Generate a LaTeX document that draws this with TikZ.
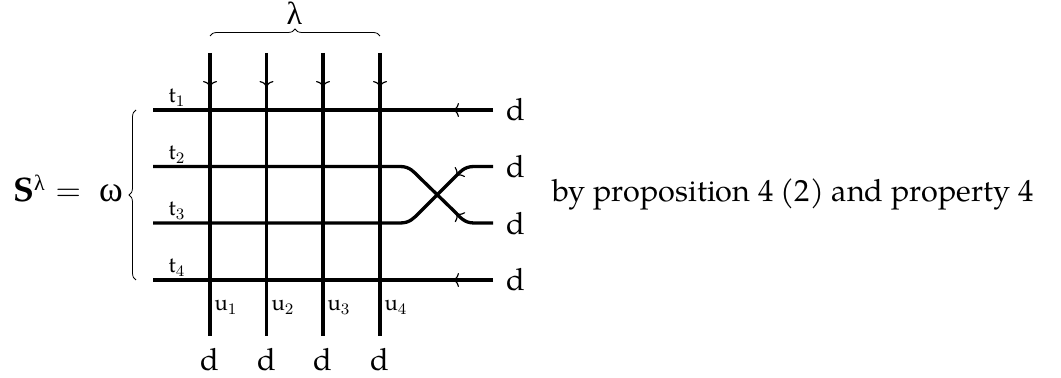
\documentclass[tikz,border=0pt]{standalone}
\usepackage{fontspec}
\setmainfont{TeX Gyre Pagella}
\usetikzlibrary{arrows.meta,decorations.markings,decorations.pathreplacing}
\newfontfamily\grk{Liberation Serif}
\tikzset{
  wire/.style={line width=1.65pt},
  tipped/.style={wire,postaction={decorate},decoration={markings,
    mark=at position #1 with {\arrow{Computer Modern Rightarrow[length=3pt,width=7pt,line width=0.6pt]}}}},
  bracey/.style={draw,line width=0.4pt,decorate,decoration={brace,amplitude=3.5pt}},
  lab/.style={inner sep=0pt,anchor=base,font=\fontsize{15.3}{18}\selectfont},
  small/.style={inner sep=0pt,anchor=base,font=\fontsize{11}{13}\selectfont},
}
\begin{document}
\begin{tikzpicture}[x=0.5pt,y=-0.5pt]
\useasboundingbox (0,0) rectangle (1061,378);
% endpoints
\coordinate (v1a) at (210,53); \coordinate (v1b) at (210,336);
\coordinate (v2a) at (266.5,53); \coordinate (v2b) at (266.5,336);
\coordinate (v3a) at (323,53); \coordinate (v3b) at (323,336);
\coordinate (v4a) at (380,53); \coordinate (v4b) at (380,336);
\coordinate (h1r) at (493,110); \coordinate (h1l) at (153,110);
\coordinate (h2r) at (493,166.5); \coordinate (h2l) at (153,166.5);
\coordinate (h3r) at (493,223); \coordinate (h3l) at (153,223);
\coordinate (h4r) at (493,280); \coordinate (h4l) at (153,280);
% wires
\foreach \i in {1,2,3,4} \draw[tipped=17pt] (v\i a) -- (v\i b);
\draw[tipped=20pt] (h1r) -- (h1l);
\draw[tipped=20pt] (h4r) -- (h4l);
\draw[tipped=20pt] (h2r) -- (474,166.5) .. controls (464,166.5) and (460,172) .. (454,178)
  -- (420,212) .. controls (414,218) and (410,223) .. (400,223) -- (h3l);
\draw[tipped=20pt] (h3r) -- (474,223) .. controls (464,223) and (460,217) .. (454,211)
  -- (420,178) .. controls (414,172) and (410,166.5) .. (400,166.5) -- (h2l);
% braces
\coordinate (bl) at (210,36); \coordinate (br) at (380,36);
\draw[bracey] (bl) -- (br);
\coordinate (cl) at (136,280); \coordinate (ct) at (136,110);
\draw[bracey] (cl) -- (ct);
% labels
\node[lab] (lam) at (294.5,25) {\fontsize{16}{18}\selectfont\grk λ};
\node[lab,anchor=base west] (S) at (13,202) {\fontsize{17}{18}\selectfont$\mathbf{S}$\raisebox{0.75ex}{\fontsize{11}{13}\selectfont\grk λ}\hspace{5.5pt}$=$};
\node[lab] (om) at (111,202) {\fontsize{18}{20}\selectfont\grk ω};
\node[small] (t1) at (177,103) {t$_1$};
\node[small] (t2) at (177,160) {t$_2$};
\node[small] (t3) at (177,216) {t$_3$};
\node[small] (t4) at (177,273) {t$_4$};
\node[small] (u1) at (226,311) {u$_1$};
\node[small] (u2) at (283,311) {u$_2$};
\node[small] (u3) at (339,311) {u$_3$};
\node[small] (u4) at (396,311) {u$_4$};
\node[lab] (d1) at (210,371) {d};
\node[lab] (d2) at (266.5,371) {d};
\node[lab] (d3) at (323,371) {d};
\node[lab] (d4) at (380,371) {d};
\node[lab] (d5) at (516,121) {d};
\node[lab] (d6) at (516,178) {d};
\node[lab] (d7) at (516,235) {d};
\node[lab] (d8) at (516,291) {d};
\node[lab,anchor=base west] (txt) at (552,202) {by proposition 4 (2) and property 4};
\end{tikzpicture}
\end{document}
